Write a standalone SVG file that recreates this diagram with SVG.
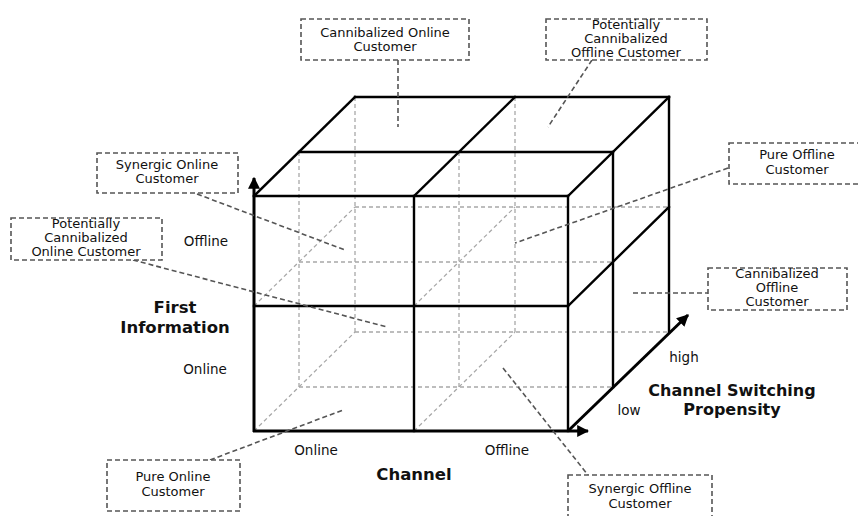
<svg xmlns="http://www.w3.org/2000/svg" width="858" height="516" viewBox="0 0 858 516">
<style>
.solid{stroke:#000;stroke-width:2.4;fill:none;stroke-linecap:square}
.axis{stroke:#000;stroke-width:3;fill:none}
.hid{stroke:#a8a8a8;stroke-width:1.3;stroke-dasharray:4 3;fill:none}
.lead{stroke:#555;stroke-width:1.6;stroke-dasharray:5 3;fill:none}
.box{stroke:#555;stroke-width:1.6;stroke-dasharray:5 3;fill:#fff}
.t{font-family:"DejaVu Sans",sans-serif;font-size:13px;fill:#111;text-anchor:middle}
.ax{font-family:"DejaVu Sans",sans-serif;font-size:13.5px;fill:#111;text-anchor:middle}
.b{font-family:"DejaVu Sans",sans-serif;font-size:16.5px;font-weight:bold;fill:#111;text-anchor:middle}
.b2{font-family:"DejaVu Sans",sans-serif;font-size:16px;font-weight:bold;fill:#111;text-anchor:middle}
</style>
<defs>
<marker id="ah" viewBox="0 0 10 10" refX="9" refY="5" markerWidth="4" markerHeight="4" orient="auto" markerUnits="strokeWidth">
<path d="M0,0 L10,5 L0,10 z" fill="#000"/>
</marker>
</defs>
<rect width="858" height="516" fill="#fff"/>

<g id="hidden-lines">
<line class="hid" x1="355" y1="97" x2="355" y2="332"/>
<line class="hid" x1="515" y1="97" x2="515" y2="332"/>
<line class="hid" x1="355" y1="207" x2="669" y2="207"/>
<line class="hid" x1="355" y1="332" x2="669" y2="332"/>
<line class="hid" x1="299" y1="152" x2="299" y2="387"/>
<line class="hid" x1="459" y1="152" x2="459" y2="387"/>
<line class="hid" x1="299" y1="262" x2="613" y2="262"/>
<line class="hid" x1="299" y1="387" x2="613" y2="387"/>
<line class="hid" x1="254" y1="306" x2="355" y2="207"/>
<line class="hid" x1="254" y1="431" x2="355" y2="332"/>
<line class="hid" x1="414" y1="306" x2="515" y2="207"/>
<line class="hid" x1="414" y1="431" x2="515" y2="332"/>
</g>

<g id="cube">
<line class="solid" x1="254" y1="196" x2="568" y2="196"/>
<line class="solid" x1="568" y1="196" x2="568" y2="431"/>
<line class="solid" x1="414" y1="196" x2="414" y2="431"/>
<line class="solid" x1="254" y1="306" x2="568" y2="306"/>
<line class="solid" x1="254" y1="196" x2="355" y2="97"/>
<line class="solid" x1="414" y1="196" x2="515" y2="97"/>
<line class="solid" x1="568" y1="196" x2="669" y2="97"/>
<line class="solid" x1="355" y1="97" x2="669" y2="97"/>
<line class="solid" x1="299" y1="152" x2="613" y2="152"/>
<line class="solid" x1="669" y1="97" x2="669" y2="332"/>
<line class="solid" x1="613" y1="152" x2="613" y2="387"/>
<line class="solid" x1="568" y1="306" x2="669" y2="207"/>
</g>

<g id="axes">
<line class="axis" x1="254" y1="432" x2="254" y2="178" marker-end="url(#ah)"/>
<line class="axis" x1="253" y1="431" x2="588" y2="431" marker-end="url(#ah)"/>
<line class="axis" x1="568" y1="431" x2="688" y2="315" marker-end="url(#ah)"/>
</g>

<g id="connectors">
<line class="lead" x1="398" y1="60" x2="398" y2="127"/>
<line class="lead" x1="592" y1="60" x2="548" y2="127"/>
<line class="lead" x1="197" y1="194" x2="345" y2="250"/>
<line class="lead" x1="133" y1="260" x2="387" y2="327"/>
<line class="lead" x1="728" y1="168" x2="515" y2="243"/>
<line class="lead" x1="633" y1="293" x2="708" y2="293"/>
<line class="lead" x1="210" y1="460" x2="343" y2="410"/>
<line class="lead" x1="503" y1="368" x2="588" y2="475"/>
</g>

<g id="cannibalized-online">
<rect class="box" x="301" y="19" width="168" height="41"/>
<text class="t" x="385" y="37">Cannibalized Online</text>
<text class="t" x="385" y="51">Customer</text>
</g>
<g id="potentially-cannibalized-offline">
<rect class="box" x="546" y="19" width="161" height="41"/>
<text class="t" x="626" y="29">Potentially</text>
<text class="t" x="626" y="43">Cannibalized</text>
<text class="t" x="626" y="57">Offline Customer</text>
</g>
<g id="synergic-online">
<rect class="box" x="97" y="153" width="141" height="40"/>
<text class="t" x="167" y="169">Synergic Online</text>
<text class="t" x="167" y="183">Customer</text>
</g>
<g id="potentially-cannibalized-online">
<rect class="box" x="11" y="218" width="151" height="42"/>
<text class="t" x="86" y="228">Potentially</text>
<text class="t" x="86" y="242">Cannibalized</text>
<text class="t" x="86" y="256">Online Customer</text>
</g>
<g id="pure-offline">
<rect class="box" x="729" y="143" width="136" height="41"/>
<text class="t" x="797" y="159">Pure Offline</text>
<text class="t" x="797" y="174">Customer</text>
</g>
<g id="cannibalized-offline">
<rect class="box" x="708" y="268" width="139" height="42"/>
<text class="t" x="777" y="278">Cannibalized</text>
<text class="t" x="777" y="292">Offline</text>
<text class="t" x="777" y="306">Customer</text>
</g>
<g id="pure-online">
<rect class="box" x="107" y="460" width="133" height="51"/>
<text class="t" x="173" y="481">Pure Online</text>
<text class="t" x="173" y="496">Customer</text>
</g>
<g id="synergic-offline">
<rect class="box" x="568" y="475" width="144" height="50"/>
<text class="t" x="640" y="493">Synergic Offline</text>
<text class="t" x="640" y="508">Customer</text>
</g>

<g id="labels">
<text class="ax" x="206" y="246">Offline</text>
<text class="ax" x="205" y="374">Online</text>
<text class="b" x="175" y="313">First</text>
<text class="b" x="175" y="333">Information</text>
<text class="ax" x="316" y="455">Online</text>
<text class="ax" x="507" y="455">Offline</text>
<text class="b" x="414" y="480">Channel</text>
<text class="ax" x="684" y="362">high</text>
<text class="ax" x="629" y="415">low</text>
<text class="b2" x="732" y="396">Channel Switching</text>
<text class="b2" x="732" y="415">Propensity</text>
</g>
</svg>
